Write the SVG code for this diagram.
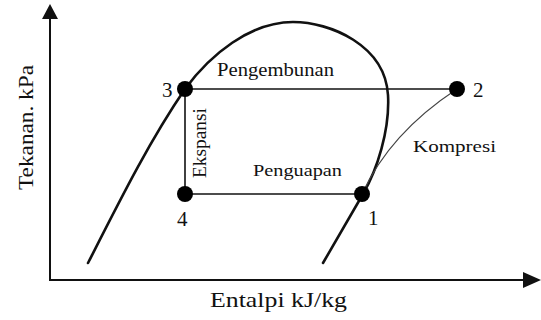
<svg xmlns="http://www.w3.org/2000/svg" width="541" height="320" viewBox="0 0 541 320">
<style>
.t{font-family:"Liberation Serif","Times New Roman",serif;fill:#111;}
.ax{stroke:#111;stroke-width:2;fill:none;}
.cyc{stroke:#111;stroke-width:1.6;fill:none;}
.dome{stroke:#111;stroke-width:2.6;fill:none;stroke-linecap:round;}
.comp{stroke:#444;stroke-width:1.1;fill:none;}
.dot{fill:#000;}
</style>
<rect width="541" height="320" fill="#fff"/>
<g id="axes">
<line class="ax" x1="50" y1="16" x2="50" y2="280"/>
<line class="ax" x1="49" y1="280" x2="526" y2="280"/>
<polygon points="50,4 42,19 58,19" fill="#111"/>
<polygon points="541,280 523,272 523,288" fill="#111"/>
<text class="t" font-size="21" text-anchor="middle" textLength="137" lengthAdjust="spacingAndGlyphs" x="278.5" y="307">Entalpi kJ/kg</text>
<text class="t" font-size="21" text-anchor="middle" textLength="125" lengthAdjust="spacingAndGlyphs" transform="translate(33,127.5) rotate(-90)" x="0" y="0">Tekanan. kPa</text>
</g>
<g id="dome">
<path class="dome" d="M88,263 C120,200 150,140 185,89 C210,55 250,22 293,22 C330,22 385,45 388,95 C390,130 377,170 363,194 L323,263"/>
</g>
<g id="connectors">
<line class="cyc" x1="185" y1="89" x2="457" y2="89"/>
<line class="cyc" x1="185" y1="89" x2="185" y2="194"/>
<line class="cyc" x1="185" y1="194" x2="362" y2="194"/>
<path class="comp" d="M362,194 Q390,133 457,89"/>
</g>
<g id="node3">
<circle class="dot" cx="185" cy="89" r="8"/>
<text class="t" font-size="21" x="162" y="97">3</text>
</g>
<g id="node2">
<circle class="dot" cx="457" cy="89" r="8"/>
<text class="t" font-size="21" x="473" y="97">2</text>
</g>
<g id="node4">
<circle class="dot" cx="185" cy="194" r="8"/>
<text class="t" font-size="21" x="177" y="225.5">4</text>
</g>
<g id="node1">
<circle class="dot" cx="362" cy="194" r="8"/>
<text class="t" font-size="21" x="368" y="224.5">1</text>
</g>
<g id="labels">
<text class="t" font-size="18" textLength="117" lengthAdjust="spacingAndGlyphs" x="217" y="76">Pengembunan</text>
<text class="t" font-size="17" textLength="89" lengthAdjust="spacingAndGlyphs" x="253" y="175.5">Penguapan</text>
<text class="t" font-size="17" textLength="83" lengthAdjust="spacingAndGlyphs" x="413" y="152">Kompresi</text>
<text class="t" font-size="18" text-anchor="middle" textLength="70" lengthAdjust="spacingAndGlyphs" transform="translate(205.5,143) rotate(-90)" x="0" y="0">Ekspansi</text>
</g>
</svg>
